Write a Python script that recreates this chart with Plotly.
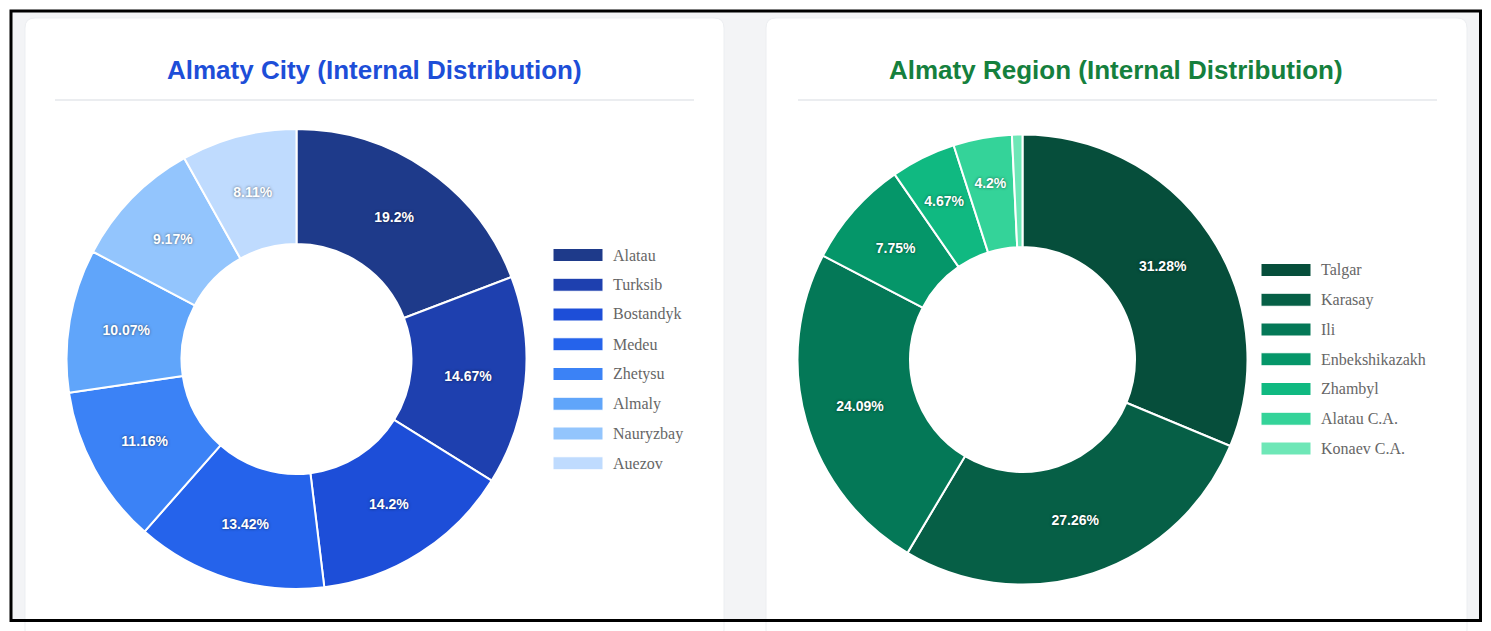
import plotly.graph_objects as go

# data
city_names = ["Alatau", "Turksib", "Bostandyk", "Medeu", "Zhetysu", "Almaly", "Nauryzbay", "Auezov"]
city_values = [19.2, 14.67, 14.2, 13.42, 11.16, 10.07, 9.17, 8.11]
city_colors = ["#1e3a8a", "#1e40af", "#1d4ed8", "#2563eb", "#3b82f6", "#60a5fa", "#93c5fd", "#bfdbfe"]

region_names = ["Talgar", "Karasay", "Ili", "Enbekshikazakh", "Zhambyl", "Alatau C.A.", "Konaev C.A."]
region_values = [31.28, 27.26, 24.09, 7.75, 4.67, 4.2, 0.75]
region_colors = ["#064e3b", "#065f46", "#047857", "#059669", "#10b981", "#34d399", "#6ee7b7"]

# the page body has an 8px margin, so the figure starts at (8, 8)
OFF = 8
W, H = 1491 - OFF, 631 - OFF


def px(x):
    return (x - OFF) / W


def py(y):
    return 1 - (y - OFF) / H


def rounded_rect(x0, y0, x1, y1, r):
    pts = [
        ("M", [(x0 + r, y0)]),
        ("L", [(x1 - r, y0)]),
        ("Q", [(x1, y0), (x1, y0 + r)]),
        ("L", [(x1, y1 - r)]),
        ("Q", [(x1, y1), (x1 - r, y1)]),
        ("L", [(x0 + r, y1)]),
        ("Q", [(x0, y1), (x0, y1 - r)]),
        ("L", [(x0, y0 + r)]),
        ("Q", [(x0, y0), (x0 + r, y0)]),
    ]
    path = ""
    for cmd, coords in pts:
        path += cmd + " " + " ".join(f"{px(a):.5f},{py(b):.5f}" for a, b in coords) + " "
    return path + "Z"


def dom(cx, cy, r):
    return dict(x=[px(cx - r), px(cx + r)], y=[py(cy + r), py(cy - r)])


def donut(names, values, colors, cx, cy, r):
    # coloured ring, no text
    ring = go.Pie(
        labels=names,
        values=values,
        textinfo="none",
        marker=dict(colors=colors, line=dict(color="white", width=2)),
        hole=0.5,
        sort=False,
        direction="clockwise",
        rotation=0,
        domain=dom(cx, cy, r),
        hoverinfo="label+percent",
        showlegend=False,
    )
    # transparent ring on top, only carries the labels so they stay near mid-ring
    labels = [f"{v:g}%" if v >= 1 else "" for v in values]
    text = go.Pie(
        labels=names,
        values=values,
        text=labels,
        textinfo="text",
        textposition="inside",
        insidetextorientation="horizontal",
        textfont=dict(family="Liberation Sans, Arial, sans-serif", size=14,
                      color="white", weight="bold",
                      shadow="0px 0px 3px rgba(0,0,0,0.55)"),
        marker=dict(colors=["rgba(0,0,0,0)"] * len(values), line=dict(width=0)),
        hole=2 / 3,
        sort=False,
        direction="clockwise",
        rotation=0,
        domain=dom(cx, cy, r * 0.9),
        hoverinfo="skip",
        showlegend=False,
    )
    return ring, text


fig = go.Figure()
fig.add_traces(donut(city_names, city_values, city_colors, 296.5, 359, 230))
fig.add_traces(donut(region_names, region_values, region_colors, 1022.5, 359.5, 225))

shapes = [
    # page background inside the frame
    dict(type="rect", xref="paper", yref="paper", x0=px(10), x1=px(1481), y0=py(621), y1=py(10),
         fillcolor="#f3f4f6", line=dict(width=0), layer="below"),
    # cards
    dict(type="path", xref="paper", yref="paper", path=rounded_rect(25, 18, 724, 640, 10),
         fillcolor="white", line=dict(color="#eceef1", width=1), layer="below"),
    dict(type="path", xref="paper", yref="paper", path=rounded_rect(766, 18, 1467, 640, 10),
         fillcolor="white", line=dict(color="#eceef1", width=1), layer="below"),
    # title rules
    dict(type="line", xref="paper", yref="paper", x0=px(55), x1=px(694), y0=py(100), y1=py(100),
         line=dict(color="#e5e7eb", width=1.5), layer="below"),
    dict(type="line", xref="paper", yref="paper", x0=px(798), x1=px(1437), y0=py(100), y1=py(100),
         line=dict(color="#e5e7eb", width=1.5), layer="below"),
    # outer frame
    dict(type="rect", xref="paper", yref="paper", x0=px(11), x1=px(1480.5), y0=py(620.5), y1=py(11),
         line=dict(color="black", width=3), layer="above"),
]

annotations = [
    dict(text="Almaty City (Internal Distribution)", x=px(374.5), y=py(70), xref="paper", yref="paper",
         showarrow=False, xanchor="center", yanchor="middle",
         font=dict(family="Liberation Sans, Arial, sans-serif", size=26, color="#1d4ed8", weight="bold")),
    dict(text="Almaty Region (Internal Distribution)", x=px(1116), y=py(70), xref="paper", yref="paper",
         showarrow=False, xanchor="center", yanchor="middle",
         font=dict(family="Liberation Sans, Arial, sans-serif", size=26, color="#15803d", weight="bold")),
]

# hand-built legends with wide colour boxes
for names, colors, lx, ly0 in [(city_names, city_colors, 553, 255), (region_names, region_colors, 1261, 270)]:
    for i, (name, color) in enumerate(zip(names, colors)):
        yc = ly0 + i * 29.75
        shapes.append(dict(type="rect", xref="paper", yref="paper",
                           x0=px(lx), x1=px(lx + 50), y0=py(yc + 6.5), y1=py(yc - 6.5),
                           fillcolor=color, line=dict(color="white", width=1), layer="above"))
        annotations.append(dict(text=name, x=px(lx + 58), y=py(yc), xref="paper", yref="paper",
                                showarrow=False, xanchor="left", yanchor="middle",
                                font=dict(family="Liberation Serif, Times New Roman, serif",
                                          size=16, color="#666666")))

fig.update_layout(
    width=W,
    height=H,
    margin=dict(l=0, r=0, t=0, b=0),
    paper_bgcolor="white",
    plot_bgcolor="white",
    shapes=shapes,
    annotations=annotations,
)

fig.write_html("out.html")
